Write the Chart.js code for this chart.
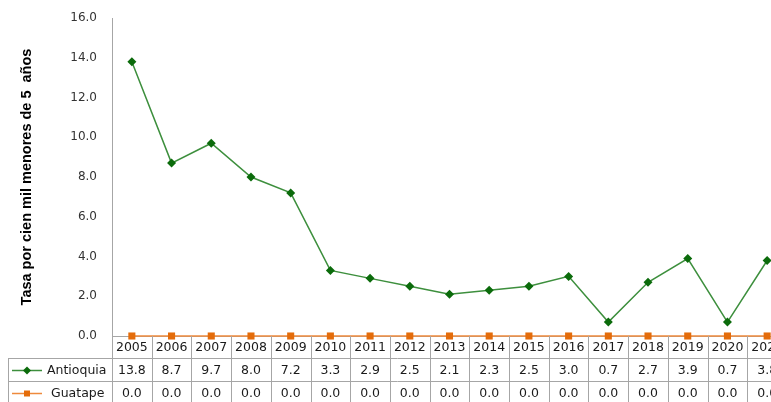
<!DOCTYPE html>
<html>
<head>
<meta charset="utf-8">
<script src="https://cdn.jsdelivr.net/npm/chart.js@4"></script>
<style>
  html, body { margin: 0; padding: 0; background: #fff; overflow: hidden; }
  #wrap { width: 800px; height: 410px; }
</style>
</head>
<body>
<div id="wrap"><canvas id="lineChart"></canvas></div>
<script>
const years = ['2005','2006','2007','2008','2009','2010','2011','2012','2013','2014','2015','2016','2017','2018','2019','2020','2021'];
const antioquia = [13.8, 8.7, 9.7, 8.0, 7.2, 3.3, 2.9, 2.5, 2.1, 2.3, 2.5, 3.0, 0.7, 2.7, 3.9, 0.7, 3.8];
const guatape = [0.0, 0.0, 0.0, 0.0, 0.0, 0.0, 0.0, 0.0, 0.0, 0.0, 0.0, 0.0, 0.0, 0.0, 0.0, 0.0, 0.0];
const yTicks = [0, 2, 4, 6, 8, 10, 12, 14, 16];

const tickFont = { family: 'DejaVu Sans', size: 12 };
const gridColor = '#a6a6a6';

// data table under the x axis, laid out on the category scale
const dataTable = {
    id: 'dataTable',
    afterDraw(chart) {
        const ctx = chart.ctx;
        const x = chart.scales.x;
        const ds = chart.data.datasets;
        const cw = x.width / years.length;
        const top = chart.chartArea.bottom;
        const headBottom = top + 22;
        const rowH = 23;
        const bottom = headBottom + rowH * ds.length;
        const legendLeft = 8;

        ctx.save();
        ctx.strokeStyle = gridColor;
        ctx.lineWidth = 1;
        ctx.beginPath();
        for (let i = 0; i <= years.length; i++) {
            const px = Math.round(x.left + i * cw) + 0.5;
            ctx.moveTo(px, top);
            ctx.lineTo(px, bottom);
        }
        ctx.moveTo(legendLeft + 0.5, headBottom);
        ctx.lineTo(legendLeft + 0.5, bottom);
        for (let r = 0; r <= ds.length; r++) {
            const py = headBottom + r * rowH + 0.5;
            ctx.moveTo(legendLeft, py);
            ctx.lineTo(x.right, py);
        }
        ctx.stroke();

        ctx.font = '12.5px "DejaVu Sans"';
        ctx.fillStyle = '#1a1a1a';
        ctx.textAlign = 'center';
        ctx.textBaseline = 'middle';
        years.forEach((yr, i) => {
            ctx.fillText(yr, x.getPixelForValue(i), (top + headBottom) / 2 + 1);
        });

        ds.forEach((d, r) => {
            const cy = headBottom + r * rowH + rowH / 2 + 1;
            d.data.forEach((v, i) => {
                ctx.fillText(v.toFixed(1), x.getPixelForValue(i), cy);
            });
            // legend key
            ctx.strokeStyle = d.borderColor;
            ctx.lineWidth = 1.5;
            ctx.beginPath();
            ctx.moveTo(12, cy);
            ctx.lineTo(42, cy);
            ctx.stroke();
            ctx.fillStyle = d.pointBackgroundColor;
            ctx.beginPath();
            if (d.pointStyle === 'rectRot') {
                ctx.moveTo(27, cy - 4); ctx.lineTo(31, cy); ctx.lineTo(27, cy + 4); ctx.lineTo(23, cy);
            } else {
                ctx.rect(24, cy - 3, 6, 6);
            }
            ctx.fill();
            ctx.fillStyle = '#1a1a1a';
            ctx.textAlign = 'left';
            ctx.fillText(d.label, r === 0 ? 47 : 51, cy);
            ctx.textAlign = 'center';
        });
        ctx.restore();
    }
};

new Chart(document.getElementById('lineChart'), {
    type: 'line',
    data: {
        labels: years,
        datasets: [
            {
                label: 'Antioquia',
                data: antioquia,
                borderColor: '#3d8f3d',
                borderWidth: 1.5,
                pointStyle: 'rectRot',
                pointRadius: 4.5,
                pointBackgroundColor: '#0b6b0b',
                pointBorderColor: '#0b6b0b',
                pointBorderWidth: 0,
                tension: 0,
                clip: false
            },
            {
                label: 'Guatape',
                data: guatape,
                borderColor: '#ee8a3c',
                borderWidth: 1.5,
                pointStyle: 'rect',
                pointRadius: 5,
                pointBackgroundColor: '#e46c0a',
                pointBorderColor: '#e46c0a',
                pointBorderWidth: 0,
                tension: 0,
                clip: false
            }
        ]
    },
    options: {
        responsive: true,
        maintainAspectRatio: false,
        animation: false,
        layout: { padding: { top: 18, right: 13, bottom: 66, left: 0 } },
        plugins: {
            legend: { display: false },
            tooltip: { enabled: false }
        },
        scales: {
            x: {
                offset: true,
                ticks: { display: false },
                grid: { display: false },
                border: { display: true, color: gridColor }
            },
            y: {
                min: 0,
                max: 16,
                afterBuildTicks: scale => { scale.ticks = yTicks.map(v => ({ value: v })); },
                afterFit: scale => { scale.width = 112; },
                ticks: {
                    font: tickFont,
                    color: '#333',
                    padding: 7,
                    callback: v => Number(v).toFixed(1)
                },
                grid: { display: false },
                border: { display: true, color: gridColor },
                title: {
                    display: true,
                    text: 'Tasa por cien mil menores de 5  años',
                    font: { family: 'Liberation Sans', size: 14.5, weight: 'bold' },
                    color: '#000',
                    padding: { top: 18, bottom: 0 }
                }
            }
        }
    },
    plugins: [dataTable]
});
</script>
</body>
</html>
